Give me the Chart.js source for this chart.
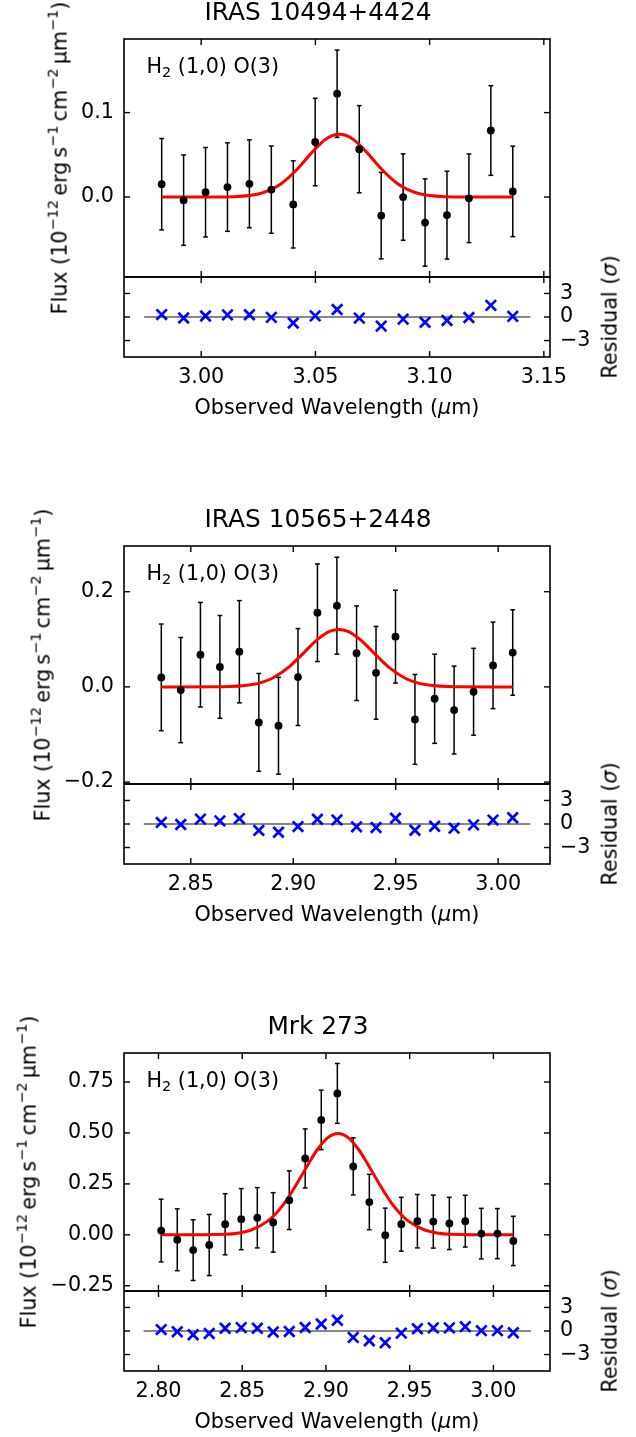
<!DOCTYPE html>
<html>
<head>
<meta charset="utf-8">
<script src="https://cdn.jsdelivr.net/npm/chart.js@4.4.1/dist/chart.umd.min.js"></script>
<style>
  body { margin: 0; background: #fff; }
  #fig { position: relative; width: 636px; height: 1437px; overflow: hidden; font-family: "DejaVu Sans", sans-serif; color: #000; }
  #fig canvas { position: absolute; }
  .txt { position: absolute; white-space: nowrap; line-height: 1; }
  .sup { font-size: 70%; position: relative; top: -0.6em; }
  .sub { font-size: 70%; position: relative; top: 0.3em; }
</style>
</head>
<body>
<div id="fig"></div>
<script>
// ---- IRAS 10494+4424 ----
const waveA = [2.9827, 2.9923, 3.0019, 3.0115, 3.0211, 3.0307, 3.0403, 3.0499, 3.0595, 3.0692, 3.0788, 3.0884, 3.0980, 3.1076, 3.1172, 3.1268, 3.1364];
const fluxA = [0.0152, -0.0037, 0.0057, 0.0118, 0.0157, 0.0088, -0.0087, 0.0652, 0.1224, 0.0567, -0.0220, 0.0000, -0.0302, -0.0214, -0.0015, 0.0788, 0.0067];
const errA = [0.0541, 0.0535, 0.0530, 0.0524, 0.0521, 0.0517, 0.0516, 0.0518, 0.0517, 0.0516, 0.0512, 0.0512, 0.0517, 0.0520, 0.0525, 0.0531, 0.0536];
const residA = [0.31, -0.12, 0.12, 0.27, 0.28, -0.05, -0.76, 0.14, 0.95, -0.14, -1.16, -0.27, -0.68, -0.44, -0.06, 1.48, 0.08];
const fitWaveA = [2.9827, 3.0100, 3.0250, 3.0300, 3.0350, 3.0420, 3.0480, 3.0540, 3.0575, 3.0605, 3.0635, 3.0670, 3.0730, 3.0790, 3.0860, 3.0910, 3.0960, 3.1110, 3.1364];
const fitFluxA = [0.0000, 0.0002, 0.0037, 0.0081, 0.0158, 0.0330, 0.0514, 0.0674, 0.0729, 0.0745, 0.0729, 0.0674, 0.0514, 0.0330, 0.0158, 0.0081, 0.0037, 0.0002, 0.0000];
const waveRangeA = [2.9662, 3.1527];
const fluxRangeA = [-0.0947, 0.1872];
const waveTicksA = [3.00, 3.05, 3.10, 3.15];
const fluxTicksA = [0.0, 0.1];

// ---- IRAS 10565+2448 ----
const waveB = [2.8356, 2.8451, 2.8547, 2.8642, 2.8737, 2.8832, 2.8928, 2.9023, 2.9118, 2.9213, 2.9309, 2.9404, 2.9499, 2.9594, 2.9690, 2.9785, 2.9880, 2.9975, 3.0071];
const fluxB = [0.0200, -0.0067, 0.0676, 0.0420, 0.0739, -0.0746, -0.0816, 0.0207, 0.1558, 0.1706, 0.0708, 0.0295, 0.1055, -0.0683, -0.0249, -0.0486, -0.0102, 0.0452, 0.0722];
const errB = [0.1120, 0.1105, 0.1098, 0.1080, 0.1074, 0.1028, 0.1017, 0.1018, 0.1025, 0.1018, 0.0993, 0.0975, 0.0975, 0.0944, 0.0937, 0.0923, 0.0912, 0.0909, 0.0898];
const residB = [0.20, -0.07, 0.62, 0.40, 0.69, -0.82, -1.05, -0.33, 0.60, 0.52, -0.36, -0.44, 0.74, -0.80, -0.28, -0.53, -0.11, 0.50, 0.80];
const fitWaveB = [2.8356, 2.8650, 2.8800, 2.8850, 2.8900, 2.8980, 2.9050, 2.9120, 2.9180, 2.9222, 2.9264, 2.9324, 2.9394, 2.9464, 2.9544, 2.9594, 2.9644, 2.9794, 3.0071];
const fitFluxB = [0.0000, 0.0003, 0.0050, 0.0101, 0.0188, 0.0422, 0.0711, 0.1002, 0.1170, 0.1207, 0.1170, 0.1002, 0.0711, 0.0422, 0.0188, 0.0101, 0.0050, 0.0003, 0.0000];
const waveRangeB = [2.8174, 3.0253];
const fluxRangeB = [-0.2040, 0.2960];
const waveTicksB = [2.85, 2.90, 2.95, 3.00];
const fluxTicksB = [-0.2, 0.0, 0.2];

// ---- Mrk 273 ----
const waveC = [2.8016, 2.8112, 2.8207, 2.8303, 2.8398, 2.8494, 2.8590, 2.8685, 2.8781, 2.8876, 2.8972, 2.9068, 2.9163, 2.9259, 2.9354, 2.9450, 2.9546, 2.9641, 2.9737, 2.9832, 2.9928, 3.0024, 3.0119];
const fluxC = [0.021, -0.024, -0.075, -0.050, 0.052, 0.077, 0.084, 0.061, 0.170, 0.375, 0.564, 0.694, 0.336, 0.161, -0.002, 0.052, 0.067, 0.065, 0.056, 0.067, 0.006, 0.006, -0.030];
const errC = [0.154, 0.152, 0.149, 0.150, 0.150, 0.150, 0.148, 0.146, 0.144, 0.145, 0.146, 0.147, 0.140, 0.136, 0.133, 0.132, 0.131, 0.130, 0.128, 0.127, 0.124, 0.123, 0.121];
const residC = [0.18, -0.10, -0.48, -0.32, 0.35, 0.43, 0.35, -0.13, -0.06, 0.45, 0.90, 1.37, -0.82, -1.24, -1.50, -0.27, 0.28, 0.40, 0.40, 0.55, 0.04, 0.04, -0.23];
const fitWaveC = [2.8016, 2.8400, 2.8550, 2.8650, 2.8700, 2.8750, 2.8800, 2.8850, 2.8900, 2.8950, 2.9010, 2.9072, 2.9134, 2.9194, 2.9244, 2.9294, 2.9344, 2.9394, 2.9444, 2.9494, 2.9594, 2.9744, 3.0119];
const fitFluxC = [0.0000, 0.0030, 0.0226, 0.0660, 0.1035, 0.1530, 0.2148, 0.2840, 0.3555, 0.4200, 0.4760, 0.4970, 0.4760, 0.4200, 0.3555, 0.2840, 0.2148, 0.1530, 0.1035, 0.0660, 0.0226, 0.0030, 0.0000];
const waveRangeC = [2.7794, 3.0338];
const fluxRangeC = [-0.2757, 0.8925];
const waveTicksC = [2.80, 2.85, 2.90, 2.95, 3.00];
const fluxTicksC = [-0.25, 0.00, 0.25, 0.50, 0.75];

// Residual panels share these
const residRange = [-5.1, 5.1];
const residTicks = [-3, 0, 3];

const panels = [
  { name: 'IRAS 10494+4424', wave: waveA, flux: fluxA, err: errA, resid: residA, fitWave: fitWaveA, fitFlux: fitFluxA,
    waveRange: waveRangeA, fluxRange: fluxRangeA, waveTicks: waveTicksA, fluxTicks: fluxTicksA, fluxDecimals: 1 },
  { name: 'IRAS 10565+2448', wave: waveB, flux: fluxB, err: errB, resid: residB, fitWave: fitWaveB, fitFlux: fitFluxB,
    waveRange: waveRangeB, fluxRange: fluxRangeB, waveTicks: waveTicksB, fluxTicks: fluxTicksB, fluxDecimals: 1 },
  { name: 'Mrk 273', wave: waveC, flux: fluxC, err: errC, resid: residC, fitWave: fitWaveC, fitFlux: fitFluxC,
    waveRange: waveRangeC, fluxRange: fluxRangeC, waveTicks: waveTicksC, fluxTicks: fluxTicksC, fluxDecimals: 2 }
];

// Layout (pixels)
const FIG_W = 636;
const AX_LEFT = 124, AX_RIGHT = 550;
const AX_TOP = 39, AX_DIV = 277, AX_BOT = 357;
const PANEL_STEP = 507;
const PAD = 30;          // must exceed half a tick label + tick padding, or Chart.js shrinks the area
const X_AXIS_H = 44;
const FS = 20.7;
const TICK_PAD = 10;
const TICK_LEN = 6;
const CAP = 2.4;
const FONT = '"DejaVu Sans", sans-serif';

Chart.defaults.font.family = FONT;
Chart.defaults.font.size = FS;
Chart.defaults.color = '#000';

const fig = document.getElementById('fig');

// Matplotlib-ish tick text, with a real minus sign
function fmt(v, decimals) {
  const s = Number(v).toFixed(decimals);
  return (Number(s) === 0 ? (0).toFixed(decimals) : s).replace('-', '\u2212');
}

function setTicks(scale, values) {
  scale.ticks = values.map(v => ({ value: v }));
}

function makeCanvas(top, height) {
  const c = document.createElement('canvas');
  c.width = FIG_W;
  c.height = height;
  c.style.left = '0px';
  c.style.top = top + 'px';
  c.style.width = FIG_W + 'px';
  c.style.height = height + 'px';
  fig.appendChild(c);
  return c;
}

function line(ctx, x1, y1, x2, y2) {
  ctx.beginPath();
  ctx.moveTo(x1, y1);
  ctx.lineTo(x2, y2);
  ctx.stroke();
}

// Widest tick label, so the y label sits just left of it (as matplotlib does)
const measureCtx = document.createElement('canvas').getContext('2d');
function maxLabelWidth(values, decimals) {
  measureCtx.font = FS + 'px ' + FONT;
  return Math.max(...values.map(v => measureCtx.measureText(fmt(v, decimals)).width));
}

// Vertical error bars with small caps, drawn under the markers
const errorBars = {
  id: 'errorBars',
  beforeDatasetsDraw(chart) {
    const { ctx, chartArea: a, scales: { x, y } } = chart;
    ctx.save();
    ctx.beginPath();
    ctx.rect(a.left, a.top, a.right - a.left, a.bottom - a.top);
    ctx.clip();
    ctx.strokeStyle = '#000';
    ctx.lineWidth = 1.5;
    chart.data.datasets.forEach(ds => {
      if (!ds.errors) return;
      ds.data.forEach((p, i) => {
        const px = x.getPixelForValue(p.x);
        const top = y.getPixelForValue(p.y + ds.errors[i]);
        const bot = y.getPixelForValue(p.y - ds.errors[i]);
        line(ctx, px, top, px, bot);
        line(ctx, px - CAP, top, px + CAP, top);
        line(ctx, px - CAP, bot, px + CAP, bot);
      });
    });
    ctx.restore();
  }
};

// Box frame plus inward ticks on all four sides
const frameTicks = {
  id: 'frameTicks',
  afterDatasetsDraw(chart) {
    const { ctx, chartArea: a, scales: { x, y } } = chart;
    ctx.save();
    ctx.strokeStyle = '#000';
    ctx.lineWidth = 1.4;
    x.ticks.forEach(t => {
      const px = x.getPixelForValue(t.value);
      line(ctx, px, a.bottom, px, a.bottom - TICK_LEN);
      line(ctx, px, a.top, px, a.top + TICK_LEN);
    });
    y.ticks.forEach(t => {
      const py = y.getPixelForValue(t.value);
      line(ctx, a.left, py, a.left + TICK_LEN, py);
      line(ctx, a.right, py, a.right - TICK_LEN, py);
    });
    ctx.lineWidth = 1.6;
    ctx.strokeRect(a.left, a.top, a.right - a.left, a.bottom - a.top);
    ctx.restore();
  }
};

const hiddenGrid = { display: false, drawTicks: false };

function createMainChart(p, off) {
  const canvas = makeCanvas(off + AX_TOP - PAD, AX_DIV - AX_TOP + 2 * PAD);
  new Chart(canvas, {
    type: 'scatter',
    data: {
      datasets: [
        {
          data: p.wave.map((w, i) => ({ x: w, y: p.flux[i] })),
          errors: p.err,
          pointRadius: 3.9,
          pointBackgroundColor: '#000',
          pointBorderWidth: 0,
          order: 0
        },
        {
          data: p.fitWave.map((w, i) => ({ x: w, y: p.fitFlux[i] })),
          showLine: true,
          borderColor: '#ff0000',
          borderWidth: 3,
          pointRadius: 0,
          cubicInterpolationMode: 'monotone',
          fill: false,
          order: 1
        }
      ]
    },
    options: {
      responsive: false,
      animation: false,
      devicePixelRatio: 1,
      layout: { padding: { left: 0, right: FIG_W - AX_RIGHT, top: PAD, bottom: PAD } },
      plugins: { legend: { display: false }, tooltip: { enabled: false } },
      scales: {
        x: {
          type: 'linear', min: p.waveRange[0], max: p.waveRange[1],
          grid: hiddenGrid, border: { display: false },
          ticks: { display: false },
          afterBuildTicks: s => setTicks(s, p.waveTicks),
          afterFit: s => { s.height = 0; }
        },
        y: {
          type: 'linear', min: p.fluxRange[0], max: p.fluxRange[1],
          grid: hiddenGrid, border: { display: false },
          ticks: { padding: TICK_PAD, callback: v => fmt(v, p.fluxDecimals) },
          afterBuildTicks: s => setTicks(s, p.fluxTicks),
          afterFit: s => { s.width = AX_LEFT; }
        }
      }
    },
    plugins: [errorBars, frameTicks]
  });
}

function createResidChart(p, off) {
  const canvas = makeCanvas(off + AX_DIV - PAD, AX_BOT - AX_DIV + PAD + X_AXIS_H);
  // zero line spans the data range plus 5% each side
  const lo = Math.min(...p.wave), hi = Math.max(...p.wave);
  const m = 0.05 * (hi - lo);
  new Chart(canvas, {
    type: 'scatter',
    data: {
      datasets: [
        {
          data: p.wave.map((w, i) => ({ x: w, y: p.resid[i] })),
          pointStyle: 'crossRot',
          pointRadius: 7.4,
          pointBorderColor: '#0000ff',
          pointBackgroundColor: 'rgba(0,0,0,0)',
          pointBorderWidth: 2.7,
          order: 0
        },
        {
          data: [{ x: lo - m, y: 0 }, { x: hi + m, y: 0 }],
          showLine: true,
          borderColor: '#111',
          borderWidth: 1.2,
          pointRadius: 0,
          fill: false,
          order: 1
        }
      ]
    },
    options: {
      responsive: false,
      animation: false,
      devicePixelRatio: 1,
      layout: { padding: { left: AX_LEFT, right: 0, top: PAD, bottom: 0 } },
      plugins: { legend: { display: false }, tooltip: { enabled: false } },
      scales: {
        x: {
          type: 'linear', min: p.waveRange[0], max: p.waveRange[1],
          grid: hiddenGrid, border: { display: false },
          ticks: { padding: 8, maxRotation: 0, autoSkip: false, callback: v => fmt(v, 2) },
          afterBuildTicks: s => setTicks(s, p.waveTicks),
          afterFit: s => { s.height = X_AXIS_H; }
        },
        y: {
          type: 'linear', position: 'right', min: residRange[0], max: residRange[1],
          grid: hiddenGrid, border: { display: false },
          ticks: { padding: TICK_PAD, callback: v => fmt(v, 0) },
          afterBuildTicks: s => setTicks(s, residTicks),
          afterFit: s => { s.width = FIG_W - AX_RIGHT; }
        }
      }
    },
    plugins: [frameTicks]
  });
}

// Text placed by its baseline; line-height 1 puts the DejaVu baseline 0.846em below the top
function addText(html, opts) {
  const d = document.createElement('div');
  d.className = 'txt';
  d.innerHTML = html;
  const fs = opts.size || FS;
  d.style.fontSize = fs + 'px';
  if (opts.rotate) {
    // rotated text reads upward; its baseline sits 0.346em right of the box centre
    d.style.left = (opts.baselineX - 0.346 * fs) + 'px';
    d.style.top = opts.centerY + 'px';
    d.style.transform = 'translate(-50%, -50%) rotate(-90deg)';
  } else {
    d.style.top = (opts.baseline - 0.846 * fs) + 'px';
    d.style.left = opts.x + 'px';
    if (opts.center) d.style.transform = 'translateX(-50%)';
  }
  fig.appendChild(d);
}

const yLabelHTML = 'Flux (10<span class="sup">\u221212</span>\u2009erg\u2009s<span class="sup">\u22121</span>\u2009cm<span class="sup">\u22122</span>\u2009\u03bcm<span class="sup">\u22121</span>)';

panels.forEach((p, k) => {
  const off = k * PANEL_STEP;
  createMainChart(p, off);
  createResidChart(p, off);

  const yLabelX = AX_LEFT - TICK_PAD - maxLabelWidth(p.fluxTicks, p.fluxDecimals) - 14;
  addText(p.name, { x: FIG_W / 2, baseline: off + 21, center: true, size: 24.8 });
  addText('H<span class="sub">2</span> (1,0) O(3)', { x: AX_LEFT + 22.5, baseline: off + AX_TOP + 34.5 });
  addText(yLabelHTML, { rotate: true, baselineX: yLabelX, centerY: off + (AX_TOP + AX_DIV) / 2 });
  addText('Residual (<i>\u03c3</i>)', { rotate: true, baselineX: 617, centerY: off + (AX_DIV + AX_BOT) / 2 });
  addText('Observed Wavelength (<i>\u03bc</i>m)', { x: (AX_LEFT + AX_RIGHT) / 2, baseline: off + 414.5, center: true });
});
</script>
</body>
</html>
